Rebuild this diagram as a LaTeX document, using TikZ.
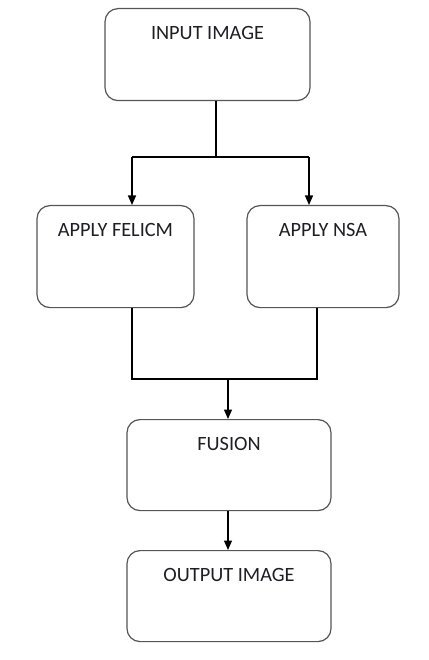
\documentclass[tikz,border=0pt]{standalone}
\usepackage{fontspec}
\setmainfont{Carlito}
\usepackage{tikz}
\usetikzlibrary{arrows.meta,calc}
\definecolor{boxline}{RGB}{85,85,85}
\definecolor{inkdark}{RGB}{30,30,35}

\begin{document}
\begin{tikzpicture}[x=1pt,y=-1pt,font=\fontsize{20.3}{24}\selectfont,
  block/.style={draw=boxline,line width=1.2pt,rounded corners=13pt,anchor=north,
                inner ysep=0pt,text height=30.5pt,text=inkdark},
  link/.style={black,line width=1.2pt},
  arr/.style={link,-{Triangle[length=9.5pt,width=8pt]}}]
  \useasboundingbox (0,0) rectangle (428,660);
  \node[block,minimum width=205pt,text depth=61.5pt] (inp) at (207.5,8)   {INPUT IMAGE};
  \node[block,minimum width=157pt,text depth=71.5pt] (fel) at (115.5,205) {APPLY FELICM};
  \node[block,minimum width=152pt,text depth=71.5pt] (nsa) at (323,205)   {APPLY NSA};
  \node[block,minimum width=204pt,text depth=60.5pt] (fus) at (229,419)   {FUSION};
  \node[block,minimum width=204pt,text depth=60.5pt] (out) at (229,550)   {OUTPUT IMAGE};
  \coordinate (split) at (216,157);
  \coordinate (lft) at (132,157);
  \coordinate (rgt) at (309,157);
  \coordinate (rgtb) at (317,379);
  \coordinate (join) at (228,379);
  \draw[link] (split |- inp.south) -- (split) -- (lft);
  \draw[link] (split) -- (rgt);
  \foreach \c/\n in {lft/fel,rgt/nsa} \draw[arr] (\c) -- (\c |- \n.north);
  \draw[link] (lft |- fel.south) -- (lft |- join) -- (rgtb) -- (rgtb |- nsa.south);
  \draw[arr] (join) -- (join |- fus.north);
  \draw[arr] (join |- fus.south) -- (join |- out.north);
\end{tikzpicture}
\end{document}
